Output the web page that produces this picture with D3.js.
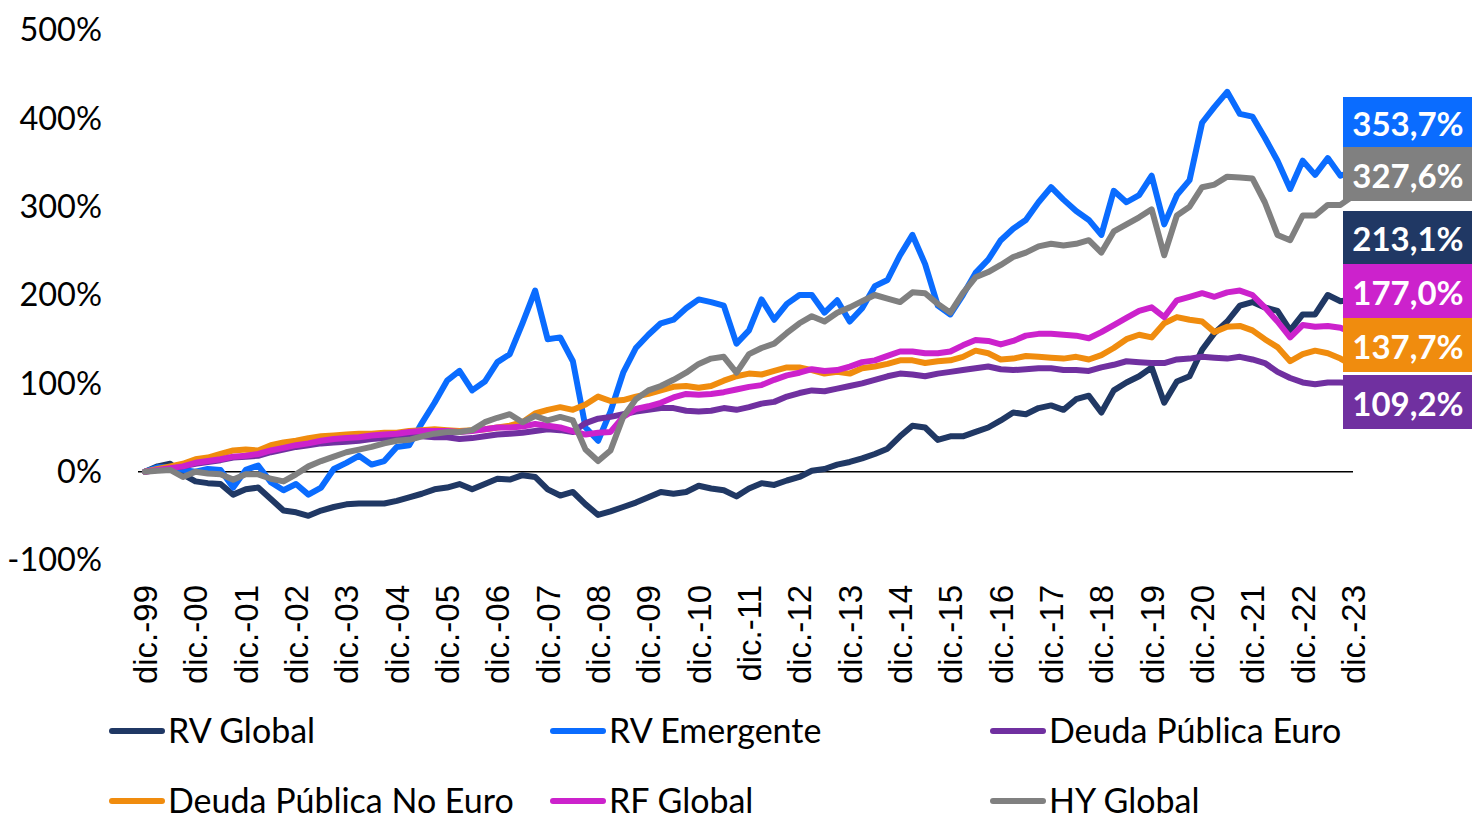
<!DOCTYPE html>
<html>
<head>
<meta charset="utf-8">
<script src="https://cdn.jsdelivr.net/npm/d3@7"></script>
<style>
  body { margin: 0; background: #fff; }
</style>
</head>
<body>
<script>
// quarterly points, dic.-99 .. dic.-23
const startDate = new Date(1999, 11, 31);
const nPoints = 97;
const dates = d3.range(nPoints).map(i => d3.timeMonth.offset(startDate, i * 3));

const tickLabels = ["dic.-99","dic.-00","dic.-01","dic.-02","dic.-03","dic.-04","dic.-05","dic.-06",
  "dic.-07","dic.-08","dic.-09","dic.-10","dic.-11","dic.-12","dic.-13","dic.-14","dic.-15","dic.-16",
  "dic.-17","dic.-18","dic.-19","dic.-20","dic.-21","dic.-22","dic.-23"];
const yTicks = [-100, 0, 100, 200, 300, 400, 500];

const seriesNames = ["RV Global", "RV Emergente", "Deuda Pública Euro", "Deuda Pública No Euro", "RF Global", "HY Global"];
const seriesColors = ["#203864", "#0A6CFF", "#7030A0", "#F08C0E", "#CC22CC", "#808080"];

const rvGlobal = [0,6,9,-3,-11,-13,-14,-26,-20,-18,-31,-44,-46,-50,-44,-40,-37,-36,-36,-36,-33,-29,-25,-20,-18,
  -14,-20,-14,-8,-9,-4,-6,-20,-27,-23,-37,-49,-45,-40,-35,-29,-23,-25,-23,-16,-19,-21,-28,-19,
  -13,-15,-10,-6,1,3,8,11,15,20,26,40,52,50,36,40,40,45,50,58,67,65,72,75,
  70,82,86,67,92,101,108,118,78,102,108,138,157,170,188,192,186,182,160,178,178,200,193,195];
const rvEmergente = [0,5,5,2,0,3,2,-18,2,7,-12,-21,-14,-26,-18,3,10,18,8,12,28,30,55,78,103,
  114,92,102,124,133,168,205,150,152,125,50,35,68,112,140,155,168,172,185,195,192,188,145,160,
  195,172,190,200,200,180,194,170,185,210,217,245,268,235,188,178,200,225,240,262,275,285,305,322,
  308,295,285,268,318,305,313,335,280,313,330,395,413,430,405,402,378,352,320,352,336,355,335,340];
const deudaEuro = [0,2,4,6,9,11,13,16,17,18,22,25,28,30,32,33,34,35,37,38,39,40,40,39,39,
  37,38,40,42,43,44,46,48,47,45,55,60,62,65,68,70,72,72,69,68,69,72,70,73,
  77,79,85,89,92,91,94,97,100,104,108,111,110,108,111,113,115,117,119,116,115,116,117,117,
  115,115,114,118,121,125,124,123,123,127,128,130,129,128,130,127,123,113,106,101,99,101,101,100];
const deudaNoEuro = [0,3,6,9,14,16,20,24,25,24,30,33,35,38,40,41,42,43,43,44,44,46,47,48,47,
  46,47,48,50,52,56,66,70,73,70,76,85,80,81,85,88,92,96,97,95,97,103,108,111,
  110,114,118,118,115,111,113,111,117,119,122,126,126,123,125,126,130,137,134,127,128,131,130,129,
  128,130,127,132,140,150,155,152,168,175,172,170,158,164,165,160,150,141,125,133,137,134,128,120];
const rfGlobal = [0,2,4,6,10,12,14,17,18,20,24,27,30,32,35,37,38,39,41,42,43,45,46,46,46,
  45,46,48,50,50,51,54,52,50,46,42,44,45,62,71,74,78,84,88,87,88,90,93,96,
  98,104,109,112,116,114,115,119,124,126,131,136,136,134,134,136,143,149,148,144,148,154,156,156,
  155,154,151,158,166,174,182,186,175,194,198,202,198,203,205,200,186,170,152,166,164,165,163,157];
const hyGlobal = [0,1,2,-6,0,-2,-3,-9,-3,-3,-8,-11,-3,6,12,17,22,25,28,32,35,36,40,43,45,
  45,47,56,61,65,56,63,58,62,58,25,12,24,62,82,92,97,104,112,122,128,130,112,133,
  140,145,157,168,176,170,180,186,193,200,196,192,203,202,190,180,202,220,226,234,243,248,255,258,
  256,258,262,248,272,280,288,297,245,290,300,322,325,334,333,332,305,268,262,290,290,302,302,312];

const finalLabels = ["353,7%", "327,6%", "213,1%", "177,0%", "137,7%", "109,2%"];
const finalColors = ["#0A6CFF", "#808080", "#203864", "#CC22CC", "#F08C0E", "#7030A0"];

const allSeries = [rvGlobal, rvEmergente, deudaEuro, deudaNoEuro, rfGlobal, hyGlobal];

const width = 1483, height = 822;
const svg = d3.select("body").append("svg")
    .attr("width", width)
    .attr("height", height);

const x = d3.scaleTime()
    .domain([dates[0], dates[dates.length - 1]])
    .range([145, 1353]);
const y = d3.scaleLinear()
    .domain([-100, 500])
    .range([560, 30]);

// y axis labels
svg.selectAll(".ytick")
    .data(yTicks)
    .enter()
    .append("text")
    .attr("class", "ytick")
    .attr("x", 102)
    .attr("y", d => y(d))
    .attr("dy", "0.35em")
    .attr("text-anchor", "end")
    .style("font-family", "Lato, 'Open Sans', sans-serif")
    .style("font-size", "32.5px")
    .style("fill", "#000")
    .text(d => d + "%");

// x axis labels (one per December)
const tickDates = tickLabels.map((t, i) => dates[i * 4]);
svg.selectAll(".xtick")
    .data(tickLabels)
    .enter()
    .append("text")
    .attr("class", "xtick")
    .attr("transform", (d, i) => `translate(${x(tickDates[i])},585) rotate(-90)`)
    .attr("dy", "0.36em")
    .attr("text-anchor", "end")
    .style("font-family", "'Liberation Sans', Arial, sans-serif")
    .style("font-size", "33px")
    .style("fill", "#000")
    .text(d => d);

// zero line
svg.append("line")
    .attr("x1", 138)
    .attr("x2", 1353)
    .attr("y1", y(0))
    .attr("y2", y(0))
    .attr("stroke", "#000")
    .attr("stroke-width", 1.5);

const line = d3.line()
    .x((d, i) => x(dates[i]))
    .y(d => y(d));

svg.selectAll(".series")
    .data(allSeries)
    .enter()
    .append("path")
    .attr("class", "series")
    .attr("d", d => line(d))
    .attr("fill", "none")
    .attr("stroke", (d, i) => seriesColors[i])
    .attr("stroke-width", 6)
    .attr("stroke-linejoin", "round")
    .attr("stroke-linecap", "round");

// final value boxes
const boxTop = [97, 147, 211, 264, 318, 375];
const boxH = [50, 54, 53, 54, 54, 54];
const boxes = svg.selectAll(".endbox")
    .data(finalLabels)
    .enter()
    .append("g")
    .attr("class", "endbox");
boxes.append("rect")
    .attr("x", 1343)
    .attr("y", (d, i) => boxTop[i])
    .attr("width", 129)
    .attr("height", (d, i) => boxH[i])
    .attr("fill", (d, i) => finalColors[i]);
boxes.append("text")
    .attr("x", 1408)
    .attr("y", (d, i) => boxTop[i] + boxH[i] / 2 + 2)
    .attr("dy", "0.35em")
    .attr("text-anchor", "middle")
    .style("font-family", "Lato, 'Open Sans', sans-serif")
    .style("font-weight", "bold")
    .style("font-size", "33px")
    .style("fill", "#fff")
    .text(d => d);

// legend
const legCols = [110, 551, 991];
const legRows = [731, 801];
const legend = svg.selectAll(".legend")
    .data(seriesNames)
    .enter()
    .append("g")
    .attr("class", "legend")
    .attr("transform", (d, i) => `translate(${legCols[i % 3]},${legRows[Math.floor(i / 3)]})`);
legend.append("line")
    .attr("x1", 2)
    .attr("x2", 52)
    .attr("stroke", (d, i) => seriesColors[i])
    .attr("stroke-width", 6)
    .attr("stroke-linecap", "round");
legend.append("text")
    .attr("x", 58)
    .attr("dy", "0.35em")
    .style("font-family", "Lato, 'Open Sans', sans-serif")
    .style("font-size", "34px")
    .style("fill", "#000")
    .text(d => d);
</script>
</body>
</html>
